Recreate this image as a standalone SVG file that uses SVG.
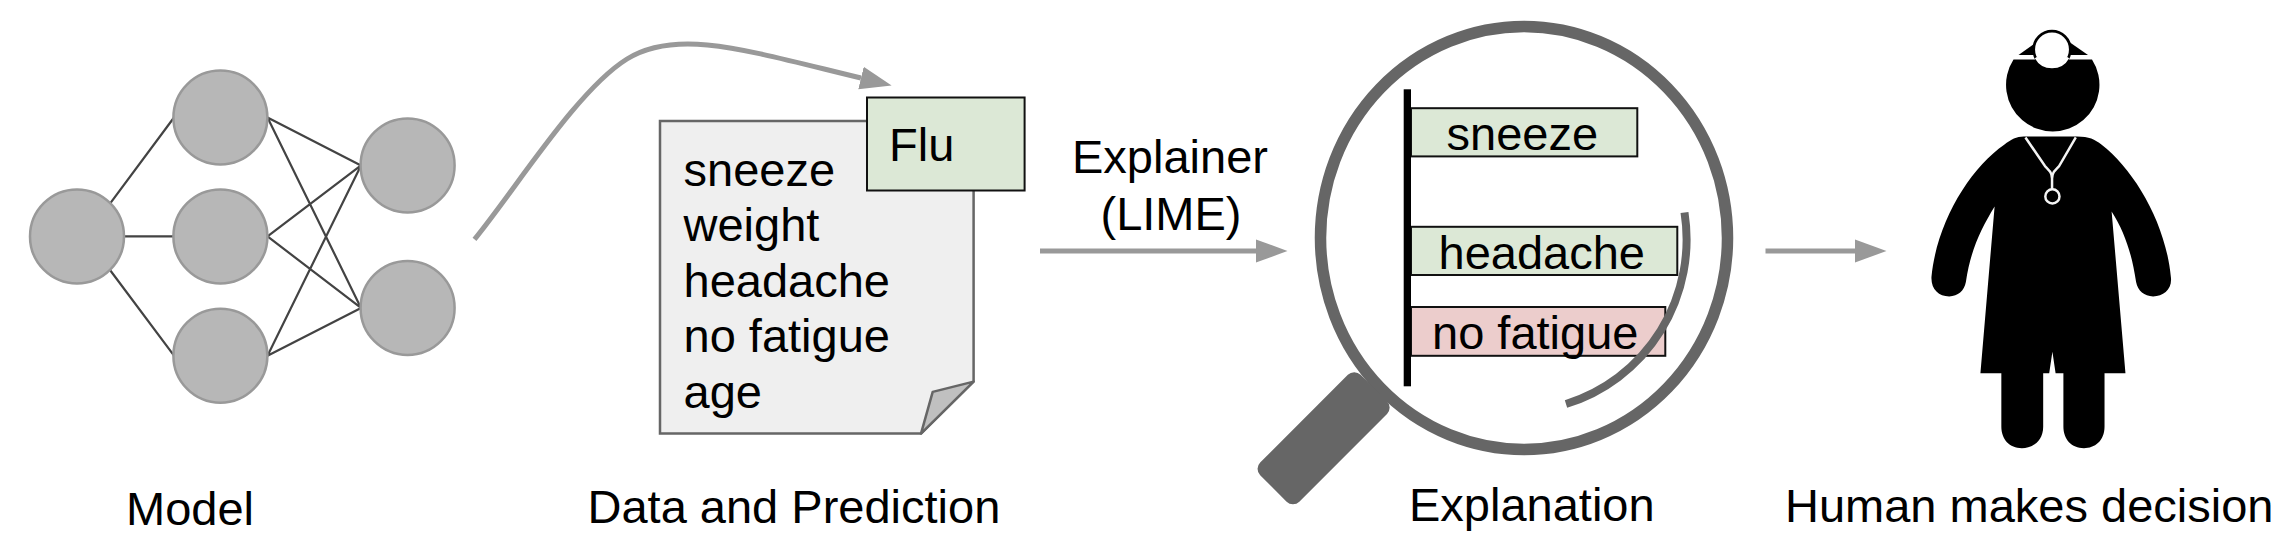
<svg xmlns="http://www.w3.org/2000/svg" width="2296" height="560" viewBox="0 0 2296 560">
<style>
text{font-family:"Liberation Sans",Arial,sans-serif;font-size:47px;fill:#000}
.n{fill:#b7b7b7;stroke:#999;stroke-width:2.5}
.e{stroke:#434343;stroke-width:2.2;fill:none}
.a{stroke:#999;stroke-width:5;fill:none;marker-end:url(#h)}
.g{fill:#dce8d6;stroke:#111;stroke-width:2}
</style>
<defs>
<marker id="h" markerUnits="userSpaceOnUse" markerWidth="32" markerHeight="24" refX="0" refY="12" orient="auto"><path d="M0,0.5L31.5,12L0,23.5Z" fill="#999"/></marker>
</defs>
<rect width="2296" height="560" fill="#fff"/>
<g id="connectors">
<path class="e" d="M110,203.6L174,117.5M124.4,236.4H174M110,270L174,355.7M267.5,117.5L361,165.4M267.5,117.5L361,307.9M267.5,236.4L361,165.4M267.5,236.4L361,307.9M267.5,355.7L361,165.4M267.5,355.7L361,307.9"/>
<path class="a" d="M474.5,239.3C515,190 577,90 627,59C677,28 745,50 861,78"/>
<path class="a" d="M1040,251H1256"/>
<path class="a" d="M1765.5,251H1855"/>
</g>
<g id="nn1"><circle class="n" cx="77" cy="236.4" r="47"/></g>
<g id="nn2"><circle class="n" cx="220.4" cy="117.5" r="47"/></g>
<g id="nn3"><circle class="n" cx="220.4" cy="236.4" r="47"/></g>
<g id="nn4"><circle class="n" cx="220.4" cy="355.7" r="47"/></g>
<g id="nn5"><circle class="n" cx="407.6" cy="165.4" r="47"/></g>
<g id="nn6"><circle class="n" cx="407.6" cy="307.9" r="47"/></g>
<g id="model-label"><text x="126" y="525">Model</text></g>
<g id="document">
<path d="M660,120.9H973.6V381.6L921,433.6H660Z" fill="#efefef" stroke="#666" stroke-width="2.5"/>
<path d="M973.6,381.6L932.7,391.9L921,433.6Z" fill="#c0c0c0" stroke="#666" stroke-width="2.5" stroke-linejoin="round"/>
<text x="683.5" y="186">sneeze</text>
<text x="683.5" y="240.7">weight</text>
<text x="683.5" y="296.7">headache</text>
<text x="683.5" y="352">no fatigue</text>
<text x="683.5" y="408">age</text>
</g>
<g id="flu"><rect class="g" x="867" y="97.5" width="157.6" height="93"/><text x="889" y="161.2">Flu</text></g>
<g id="data-label"><text x="587.5" y="522.7">Data and Prediction</text></g>
<g id="explainer-label"><text x="1170" y="173" text-anchor="middle">Explainer</text><text x="1171" y="230" text-anchor="middle">(LIME)</text></g>
<g id="magnifier">
<ellipse cx="1524" cy="238" rx="203.5" ry="211.5" fill="none" stroke="#666" stroke-width="11.5"/>
<rect x="1252.6" y="410.5" width="142" height="55.4" rx="9" fill="#666" transform="rotate(-45 1323.6 438.2)"/>
</g>
<g id="explanation">
<rect class="g" x="1411" y="108.2" width="226.3" height="48.2"/>
<rect class="g" x="1411" y="226.8" width="266.3" height="48.2"/>
<rect x="1411" y="307" width="254.3" height="48.8" fill="#eccdcc" stroke="#111" stroke-width="2"/>
<text x="1446.5" y="149.8">sneeze</text>
<text x="1438.5" y="268.5">headache</text>
<text x="1432" y="349">no fatigue</text>
<rect x="1403.7" y="89.3" width="7.3" height="297" fill="#000"/>
<path d="M1684.5,212.5A170,172 0 0 1 1566,404" fill="none" stroke="#666" stroke-width="8"/>
</g>
<g id="explanation-label"><text x="1409" y="521.4">Explanation</text></g>
<g id="doctor">
<path transform="translate(1740,0) scale(.3546,.3571)" d="M800,382L950,382C985,382 1000,390 1020,405C1110,475 1200,620 1215,775C1220,810 1195,830 1165,830C1140,830 1122,815 1117,790C1105,710 1085,650 1048,592L1087,1045L1028,1045L1028,1195C1028,1235 1000,1255 970,1255C935,1255 912,1230 912,1195L912,1045L890,1045L881,985L872,1045L855,1045L855,1195C855,1235 825,1255 795,1255C760,1255 737,1230 737,1195L737,1045L678,1045L718,578C680,640 650,700 637,790C632,815 615,830 590,830C560,830 538,810 540,775C555,620 650,470 745,405C765,390 780,382 800,382Z" fill="#000"/>
<g transform="translate(1740,0) scale(.3546,.3571)">
<path d="M805,385L860,465C875,480 880,485 880,500V530M947,385L900,465C885,480 880,485 880,500" fill="none" stroke="#f4f4f4" stroke-width="7"/>
<circle cx="881" cy="550" r="20" fill="#000" stroke="#f4f4f4" stroke-width="7"/>
</g>
<path d="M2013.5,59.5A46.7,46.7 0 1 0 2092,59.5Z" fill="#000"/>
<path d="M2018.5,55L2036,42.5L2070,42.5L2088,55Z" fill="#000"/>
<circle cx="2052" cy="49.5" r="18.3" fill="#fff" stroke="#000" stroke-width="2.7"/>
<path d="M2036,57.5A18.3,18.3 0 0 0 2068,57.5" fill="none" stroke="#fff" stroke-width="2.7"/>
</g>
<g id="human-label"><text x="1785" y="522">Human makes decision</text></g>
</svg>
